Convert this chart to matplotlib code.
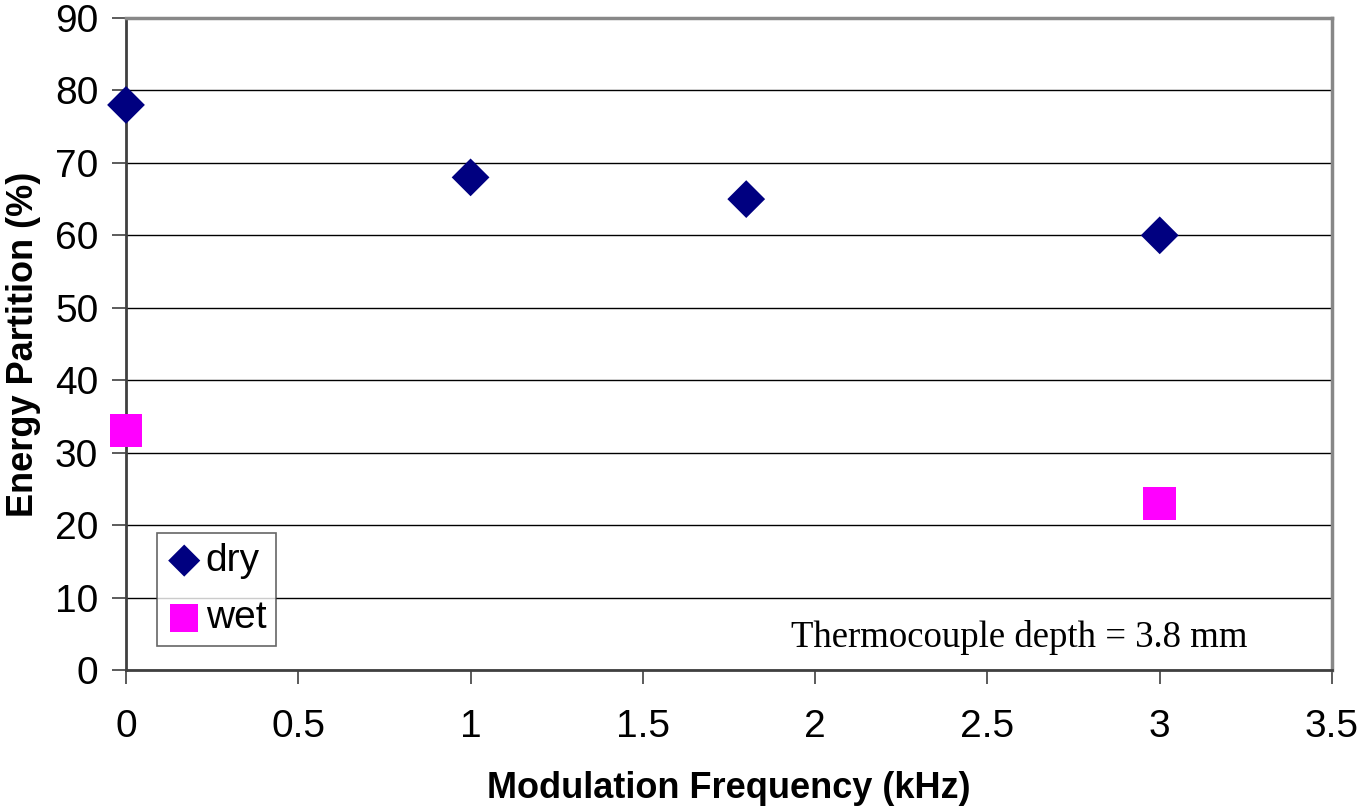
import matplotlib.pyplot as plt

plt.rcParams['font.family'] = ['Liberation Sans', 'DejaVu Sans']

# data
dry_freq = [0, 1, 1.8, 3]
dry_energy = [78, 68, 65, 60]
wet_freq = [0, 3]
wet_energy = [33, 23]

x_ticks = [0, 0.5, 1, 1.5, 2, 2.5, 3, 3.5]
x_tick_labels = ['0', '0.5', '1', '1.5', '2', '2.5', '3', '3.5']
y_ticks = list(range(0, 100, 10))

fig = plt.figure(figsize=(13.58, 8.06), dpi=100)
ax = fig.add_axes([126 / 1358, 136 / 806, 1206 / 1358, 652 / 806])

ax.scatter(dry_freq, dry_energy, marker='D', s=370, color='#000080',
           edgecolors='none', label='dry', zorder=3, clip_on=False)
ax.scatter(wet_freq, wet_energy, marker='s', s=560, color='#FF00FF',
           edgecolors='none', label='wet', zorder=3, clip_on=False)

ax.set_xlim(0, 3.5)
ax.set_ylim(0, 90)
ax.set_xticks(x_ticks)
ax.set_xticklabels(x_tick_labels)
ax.set_yticks(y_ticks)
ax.tick_params(axis='both', labelsize=28, length=10, width=1.2, color='#404040')
ax.tick_params(axis='x', pad=18)
ax.tick_params(axis='y', pad=10)

ax.grid(axis='y', color='black', linewidth=1)
ax.set_axisbelow(True)

for side in ['left', 'bottom']:
    ax.spines[side].set_color('#404040')
    ax.spines[side].set_linewidth(2)
for side in ['top', 'right']:
    ax.spines[side].set_color('#888888')
    ax.spines[side].set_linewidth(2.5)

ax.set_xlabel('Modulation Frequency (kHz)', fontsize=26, fontweight='bold', labelpad=19)
ax.set_ylabel('Energy Partition (%)', fontsize=26, fontweight='bold', labelpad=10)

leg = ax.legend(loc='upper left', bbox_to_anchor=(0.0257, 0.21), borderaxespad=0,
                fontsize=28, frameon=True, fancybox=False, handletextpad=0.1,
                handlelength=0.9, borderpad=0.25, labelspacing=0.55, markerscale=0.85)
leg.get_frame().set_edgecolor('#404040')
leg.get_frame().set_linewidth(1.2)

ax.text(0.741, 0.05, 'Thermocouple depth = 3.8 mm', transform=ax.transAxes,
        ha='center', va='center', fontsize=26.5, family=['Liberation Serif', 'DejaVu Serif'])

fig.savefig('out.png', dpi=100, facecolor='white')
